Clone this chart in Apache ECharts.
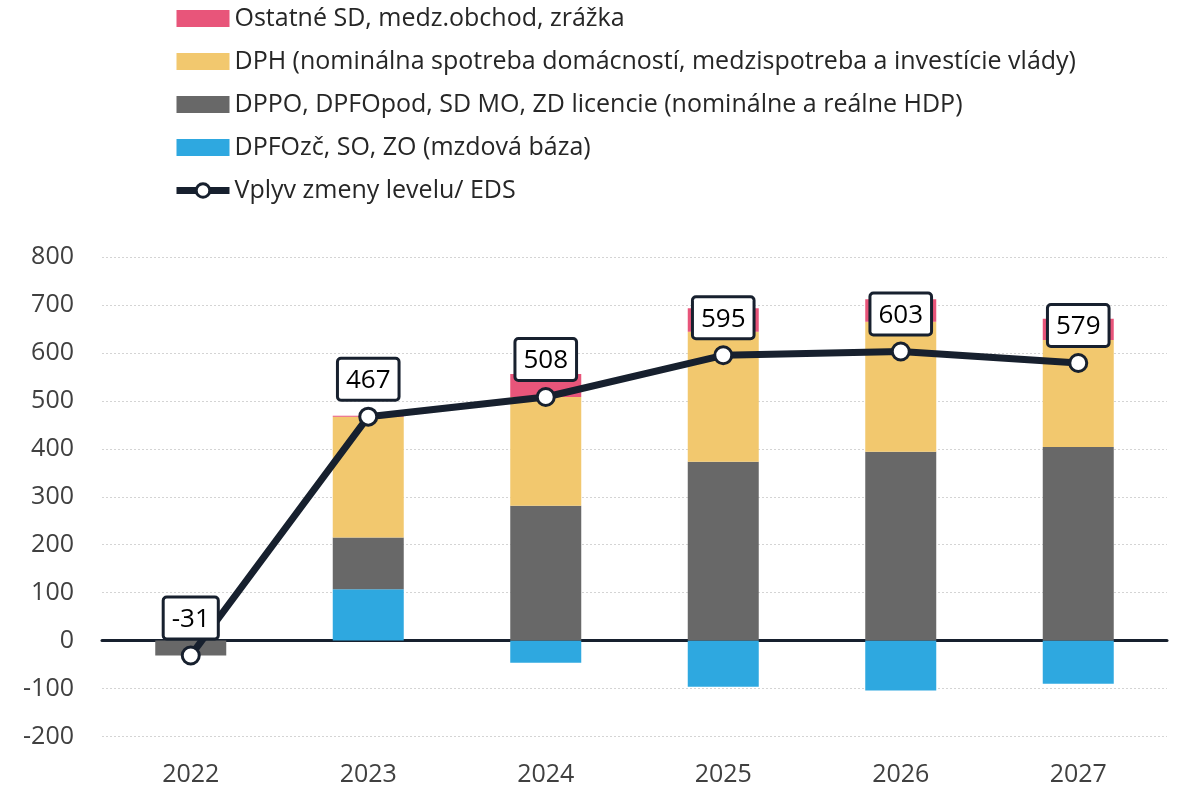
<!DOCTYPE html>
<html>
<head>
<meta charset="utf-8">
<script src="https://cdn.jsdelivr.net/npm/echarts@6/dist/echarts.min.js"></script>
<style>
  html, body { margin: 0; padding: 0; background: #ffffff; }
  #chart { width: 1179px; height: 787px; }
</style>
</head>
<body>
<div id="chart"></div>
<script>
// Years on the category axis
const years = ['2022', '2023', '2024', '2025', '2026', '2027'];

// Stacked contributions (mil. eur)
const ostatne = [0, 2, 48, 49, 47, 44];
const dph = [0, 252, 227, 271, 271, 223];
const dppo = [-31, 108, 281, 373, 394, 404];
const dpfo = [0, 107, -46, -96, -104, -90];

// Total effect line
const vplyv = [-31, 467, 508, 595, 603, 579];

// Series names
const names = {
  ostatne: 'Ostatné SD, medz.obchod, zrážka',
  dph: 'DPH (nominálna spotreba domácností, medzispotreba a investície vlády)',
  dppo: 'DPPO, DPFOpod, SD MO, ZD licencie (nominálne a reálne HDP)',
  dpfo: 'DPFOzč, SO, ZO (mzdová báza)',
  vplyv: 'Vplyv zmeny levelu/ EDS'
};

const font = 'Open Sans, Noto Sans, sans-serif';
const dark = '#17202e';

const chart = echarts.init(document.getElementById('chart'));

function barSeries(name, data, color) {
  return {
    name: name,
    type: 'bar',
    stack: 'total',
    stackStrategy: 'samesign',
    barWidth: 71,
    itemStyle: { color: color },
    data: data,
    z: 2
  };
}

chart.setOption({
  animation: false,
  textStyle: { fontFamily: font },
  legend: {
    orient: 'vertical',
    left: 168,
    top: 1,
    itemWidth: 53,
    itemHeight: 17,
    itemGap: 18,
    textStyle: { fontSize: 25, color: '#262626', fontFamily: font },
    data: [
      { name: names.ostatne, icon: 'rect' },
      { name: names.dph, icon: 'rect' },
      { name: names.dppo, icon: 'rect' },
      { name: names.dpfo, icon: 'rect' },
      {
        name: names.vplyv,
        lineStyle: { width: 7, color: dark },
        itemStyle: { color: '#ffffff', borderColor: dark, borderWidth: 3 }
      }
    ]
  },
  grid: { left: 102, right: 12, top: 257, bottom: 50 },
  xAxis: {
    type: 'category',
    data: years,
    axisLine: { show: true, onZero: true, lineStyle: { color: dark, width: 3 } },
    axisTick: { show: false },
    axisLabel: { fontSize: 25, color: '#404040', fontFamily: font, margin: 38, verticalAlign: 'middle' },
    position: 'bottom'
  },
  yAxis: {
    type: 'value',
    min: -200,
    max: 800,
    interval: 100,
    axisLine: { show: false },
    axisTick: { show: false },
    axisLabel: { fontSize: 25, color: '#404040', fontFamily: font, margin: 28 },
    splitLine: { lineStyle: { color: '#d4d4d4', type: [2, 2], width: 1 } }
  },
  series: [
    barSeries(names.dpfo, dpfo, '#2ea8e0'),
    barSeries(names.dppo, dppo, '#686868'),
    barSeries(names.dph, dph, '#f2c86e'),
    barSeries(names.ostatne, ostatne, '#e8557a'),
    {
      name: names.vplyv,
      type: 'line',
      data: vplyv,
      z: 5,
      symbol: 'circle',
      symbolSize: 17,
      lineStyle: { color: dark, width: 7 },
      itemStyle: { color: '#ffffff', borderColor: dark, borderWidth: 3 },
      label: {
        show: true,
        position: 'top',
        distance: 8,
        fontSize: 26,
        color: '#000000',
        fontFamily: font,
        backgroundColor: '#ffffff',
        borderColor: dark,
        borderWidth: 3,
        borderRadius: 2,
        padding: [8, 7, 5, 7]
      }
    }
  ]
});
</script>
</body>
</html>
